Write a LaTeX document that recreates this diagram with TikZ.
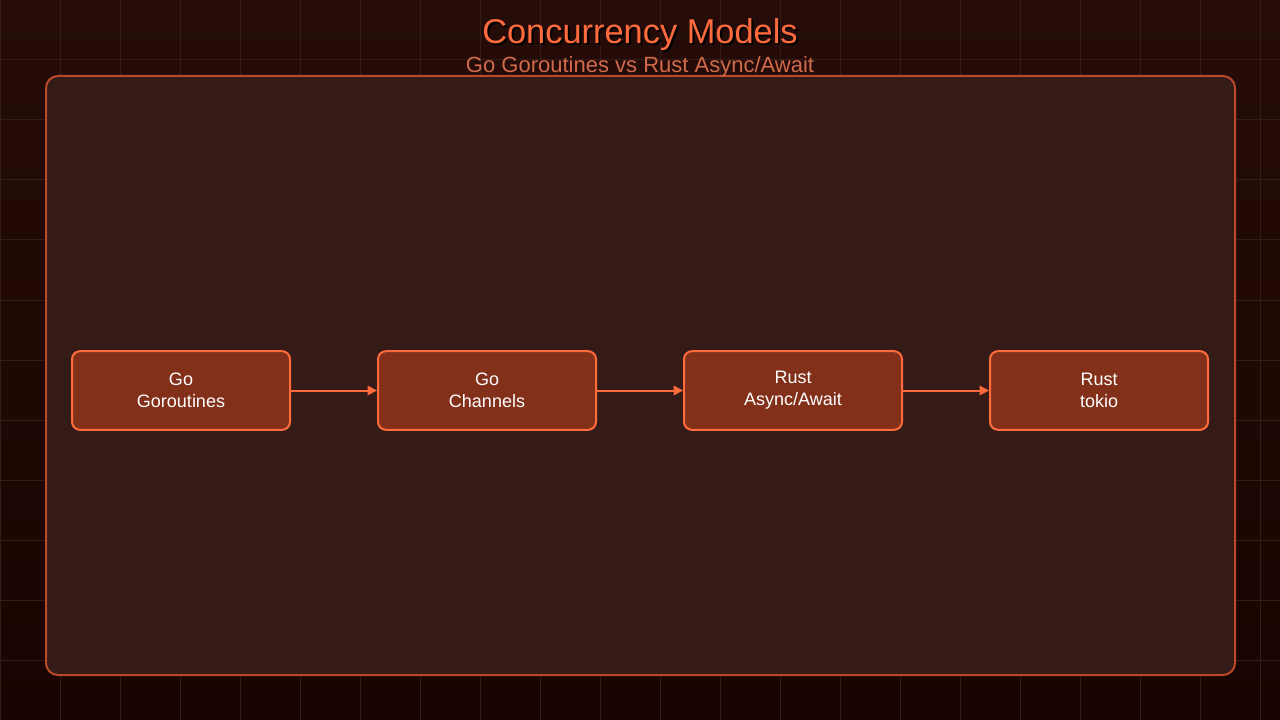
\documentclass[tikz,border=0pt]{standalone}
\usepackage{fontspec}
\setmainfont{Liberation Sans}
\usetikzlibrary{arrows.meta}
\definecolor{bgtop}{HTML}{250C09}
\definecolor{bgbot}{HTML}{1A0300}
\definecolor{gridc}{HTML}{361C18}
\definecolor{panel}{HTML}{351B17}
\definecolor{panelb}{HTML}{B84A2A}
\definecolor{nodef}{HTML}{82301A}
\definecolor{accent}{HTML}{FF6B3D}
\definecolor{subc}{HTML}{D06A4A}
\tikzset{
  stepbox/.style={draw=accent, line width=1.5pt, fill=nodef, rounded corners=6pt,
    minimum width=163.5pt, minimum height=59pt, align=center, text=white,
    font=\fontsize{13.5}{16.5}\selectfont},
  conn/.style={draw=accent, line width=1.5pt, -{Triangle[length=7pt,width=7pt]}}
}
\begin{document}
\begin{tikzpicture}[x=0.75pt,y=-0.75pt]
\useasboundingbox (0,0) rectangle (1280,720);
\shade[top color=bgtop,bottom color=bgbot] (0,0) rectangle (1280,720);
\foreach \i in {0,60,...,1260} \draw[gridc,line width=0.75pt] (\i,0) -- (\i,720);
\foreach \j in {0,60,...,720} \draw[gridc,line width=0.75pt] (0,\j) -- (1280,\j);
\draw[panelb,fill=panel,line width=1.5pt,rounded corners=9pt] (46,76) rectangle (1235,675);
\node[text=black,font=\fontsize{25.8}{30}\selectfont] at (642,37) {Concurrency Models};
\node (title) [text=accent,font=\fontsize{25.8}{30}\selectfont] at (640,35) {Concurrency Models};
\node (sub) [text=subc,font=\fontsize{16.5}{19}\selectfont] at (640,67) {Go Goroutines vs Rust Async/Await};
\node[stepbox] (a) at (181,390.5) {Go\\Goroutines};
\node[stepbox] (b) at (487,390.5) {Go\\Channels};
\node[stepbox] (c) at (793,390.5) {Rust\\Async/Await};
\node[stepbox] (d) at (1099,390.5) {Rust\\tokio};
\draw[conn] (a) -- (b);
\draw[conn] (b) -- (c);
\draw[conn] (c) -- (d);
\end{tikzpicture}
\end{document}
